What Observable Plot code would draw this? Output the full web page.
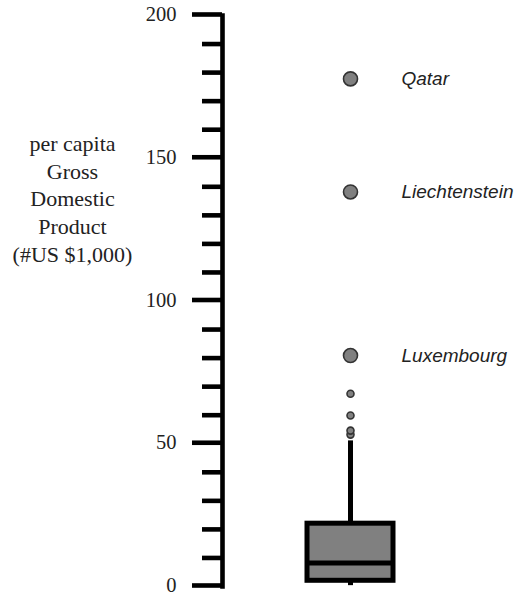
<!DOCTYPE html>
<html>
<head>
<meta charset="utf-8">
<script src="https://cdn.jsdelivr.net/npm/d3@7"></script>
<script src="https://cdn.jsdelivr.net/npm/@observablehq/plot@0.6"></script>
<style>
  html, body { margin: 0; padding: 0; background: #fff; }
</style>
</head>
<body>
<div id="chart"></div>
<script>
// ---- data ----
const category = ["GDP"];
const quartiles = [2.0, 8.2, 22.0];          // Q1, median, Q3
const whiskers = [0.3, 51.0];                 // low, high
const minorOutliers = [53.2, 54.6, 59.9, 67.5];
const namedCountries = ["Luxembourg", "Liechtenstein", "Qatar"];
const namedValues = [80.9, 138.2, 177.8];
const majorTicks = [0, 50, 100, 150, 200];
const minorTicks = [10, 20, 30, 40, 60, 70, 80, 90, 110, 120, 130, 140, 160, 170, 180, 190];
const yLabel = "per capita\nGross\nDomestic\nProduct\n(#US $1,000)";

const box = [{cat: category[0], q1: quartiles[0], median: quartiles[1], q3: quartiles[2], lo: whiskers[0], hi: whiskers[1]}];
const small = minorOutliers.map(v => ({cat: category[0], v}));
const named = namedCountries.map((name, i) => ({cat: category[0], name, v: namedValues[i]}));

const serif = "'Liberation Serif', 'Times New Roman', serif";
const sans = "'Liberation Sans', Arial, sans-serif";

const chart = Plot.plot({
  width: 517,
  height: 595,
  marginLeft: 222,
  marginRight: 39,
  marginTop: 15,
  marginBottom: 9,
  style: {fontFamily: serif, fontSize: "21px", color: "#111", background: "#fff"},
  x: {type: "band", domain: category, axis: null, paddingInner: 0, paddingOuter: 0},
  y: {domain: [0, 200], axis: null},
  marks: [
    // y axis line
    Plot.frame({anchor: "left", stroke: "#000", strokeWidth: 4.6, strokeLinecap: "square"}),
    // minor ticks
    Plot.axisY({ticks: minorTicks, tickSize: 20, text: null, label: null, stroke: "#000", strokeWidth: 4.6}),
    // major ticks with labels
    Plot.axisY({ticks: majorTicks, tickSize: 30, tickPadding: 16, label: null, stroke: "#000", strokeWidth: 4.6,
      fill: "#222", fontSize: 20.5, fontFamily: serif, dy: -1}),
    // y label
    Plot.text([yLabel], {frameAnchor: "top-left", dx: -150, dy: 182, text: d => d,
      textAnchor: "middle", lineAnchor: "middle", lineHeight: 1.26, fontSize: 22, fontFamily: serif, fill: "#222"}),
    // whiskers
    Plot.ruleX(box, {x: "cat", y1: "lo", y2: "q1", stroke: "#000", strokeWidth: 5}),
    Plot.ruleX(box, {x: "cat", y1: "q3", y2: "hi", stroke: "#000", strokeWidth: 5}),
    // box
    Plot.barY(box, {x: "cat", y1: "q1", y2: "q3", fill: "#808080", stroke: "#000", strokeWidth: 5, insetLeft: 85, insetRight: 85}),
    // median
    Plot.tickY(box, {x: "cat", y: "median", stroke: "#000", strokeWidth: 5, insetLeft: 85, insetRight: 85}),
    // small outliers
    Plot.dot(small, {x: "cat", y: "v", r: 3.5, fill: "#808080", stroke: "#333", strokeWidth: 1.6}),
    // named outliers
    Plot.dot(named, {x: "cat", y: "v", r: 7, fill: "#808080", stroke: "#333", strokeWidth: 1.6}),
    Plot.text(named, {x: "cat", y: "v", text: "name", dx: 51, textAnchor: "start", fontSize: 19,
      fontFamily: sans, fontStyle: "italic", fill: "#222"})
  ]
});

document.getElementById("chart").appendChild(chart);
</script>
</body>
</html>
